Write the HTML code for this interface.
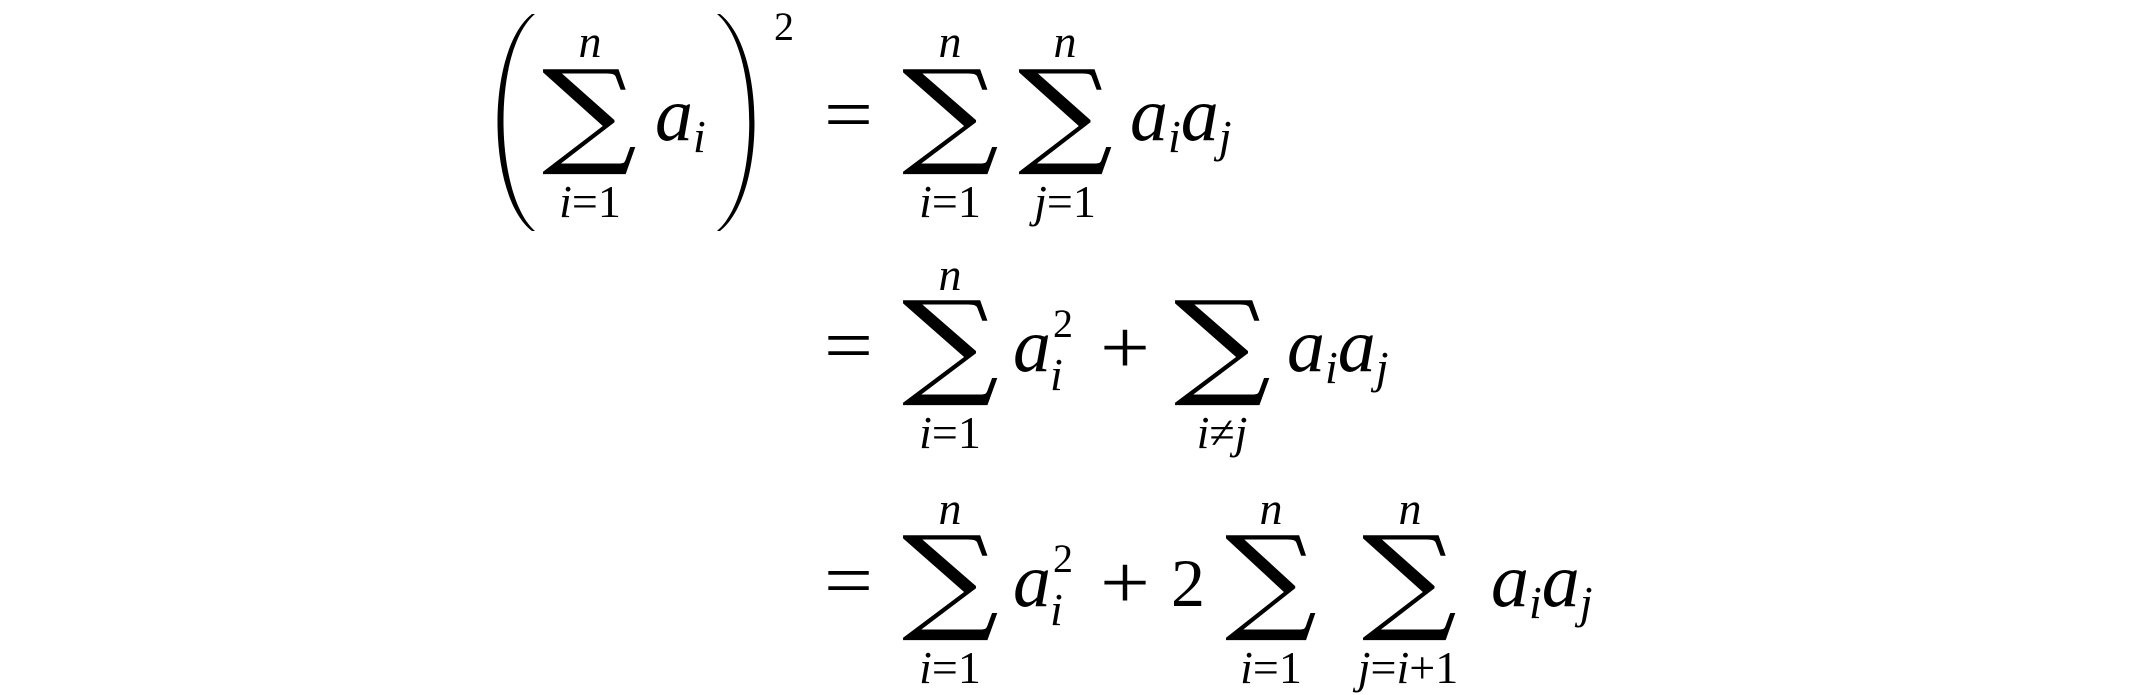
<!DOCTYPE html>
<html><head><meta charset="utf-8"><style>
html,body{margin:0;padding:0;background:#fff;width:2129px;height:695px;overflow:hidden}
svg{display:block}
.m{font-family:"Liberation Serif",serif;font-style:italic;fill:#000}
.r{font-family:"Liberation Serif",serif;fill:#000}
.s{font-family:"DejaVu Serif",serif;fill:#000}
</style></head><body>
<svg width="2129" height="695" viewBox="0 0 2129 695">
<!-- Row 1 -->
<g>
<path d="M535,14 C492,50 494,195 535,231 L532,231 C486,195 486,50 532,14 Z" fill="#000"/>
<text class="m" x="590" y="57" font-size="46" text-anchor="middle">n</text>
<text class="s" x="542" y="152" font-size="115" textLength="95" lengthAdjust="spacingAndGlyphs">∑</text>
<text class="m" x="590" y="217" font-size="46" text-anchor="middle">i<tspan class="r" font-style="normal">=1</tspan></text>
<text class="m" x="655" y="140" font-size="76">a<tspan font-size="46" dy="12">i</tspan></text>
<path d="M717,14 C760,50 760,195 717,231 L720,231 C766,195 766,50 720,14 Z" fill="#000"/>
<text class="r" x="774" y="40" font-size="40">2</text>
<text class="r" x="824" y="140" font-size="76" textLength="49" lengthAdjust="spacingAndGlyphs">=</text>
<text class="m" x="950" y="57" font-size="46" text-anchor="middle">n</text>
<text class="s" x="902" y="152" font-size="115" textLength="97" lengthAdjust="spacingAndGlyphs">∑</text>
<text class="m" x="950" y="217" font-size="46" text-anchor="middle">i<tspan class="r" font-style="normal">=1</tspan></text>
<text class="m" x="1065" y="57" font-size="46" text-anchor="middle">n</text>
<text class="s" x="1018" y="152" font-size="115" textLength="95" lengthAdjust="spacingAndGlyphs">∑</text>
<text class="m" x="1065" y="217" font-size="46" text-anchor="middle">j<tspan class="r" font-style="normal">=1</tspan></text>
<text class="m" x="1130" y="140" font-size="76">a<tspan font-size="46" dy="12">i</tspan><tspan dy="-12">a</tspan><tspan font-size="46" dy="12">j</tspan></text>
</g>
<!-- Row 2 -->
<g>
<text class="r" x="824" y="371" font-size="76" textLength="49" lengthAdjust="spacingAndGlyphs">=</text>
<text class="m" x="950" y="290" font-size="46" text-anchor="middle">n</text>
<text class="s" x="902" y="383" font-size="115" textLength="97" lengthAdjust="spacingAndGlyphs">∑</text>
<text class="m" x="950" y="448" font-size="46" text-anchor="middle">i<tspan class="r" font-style="normal">=1</tspan></text>
<text class="m" x="1013" y="371" font-size="76">a</text>
<text class="m" x="1050" y="390" font-size="46">i</text>
<text class="r" x="1053" y="337" font-size="40">2</text>
<text class="r" x="1100" y="373" font-size="76" textLength="50" lengthAdjust="spacingAndGlyphs">+</text>
<text class="s" x="1174" y="383" font-size="115" textLength="97" lengthAdjust="spacingAndGlyphs">∑</text>
<text class="m" x="1222" y="448" font-size="46" text-anchor="middle">i<tspan class="r" font-style="normal">≠</tspan>j</text>
<text class="m" x="1287" y="371" font-size="76">a<tspan font-size="46" dy="12">i</tspan><tspan dy="-12">a</tspan><tspan font-size="46" dy="12">j</tspan></text>
</g>
<!-- Row 3 -->
<g>
<text class="r" x="824" y="606" font-size="76" textLength="49" lengthAdjust="spacingAndGlyphs">=</text>
<text class="m" x="950" y="524" font-size="46" text-anchor="middle">n</text>
<text class="s" x="902" y="618" font-size="115" textLength="97" lengthAdjust="spacingAndGlyphs">∑</text>
<text class="m" x="950" y="683" font-size="46" text-anchor="middle">i<tspan class="r" font-style="normal">=1</tspan></text>
<text class="m" x="1013" y="606" font-size="76">a</text>
<text class="m" x="1050" y="625" font-size="46">i</text>
<text class="r" x="1053" y="572" font-size="40">2</text>
<text class="r" x="1100" y="608" font-size="76" textLength="50" lengthAdjust="spacingAndGlyphs">+</text>
<text class="r" x="1171" y="606" font-size="68">2</text>
<text class="m" x="1271" y="524" font-size="46" text-anchor="middle">n</text>
<text class="s" x="1225" y="618" font-size="115" textLength="92" lengthAdjust="spacingAndGlyphs">∑</text>
<text class="m" x="1271" y="683" font-size="46" text-anchor="middle">i<tspan class="r" font-style="normal">=1</tspan></text>
<text class="m" x="1410" y="524" font-size="46" text-anchor="middle">n</text>
<text class="s" x="1362" y="618" font-size="115" textLength="95" lengthAdjust="spacingAndGlyphs">∑</text>
<text class="m" x="1408" y="683" font-size="46" text-anchor="middle">j<tspan class="r" font-style="normal">=</tspan>i<tspan class="r" font-style="normal">+1</tspan></text>
<text class="m" x="1491" y="606" font-size="76">a<tspan font-size="46" dy="12">i</tspan><tspan dy="-12">a</tspan><tspan font-size="46" dy="12">j</tspan></text>
</g>
</svg>
</body></html>
